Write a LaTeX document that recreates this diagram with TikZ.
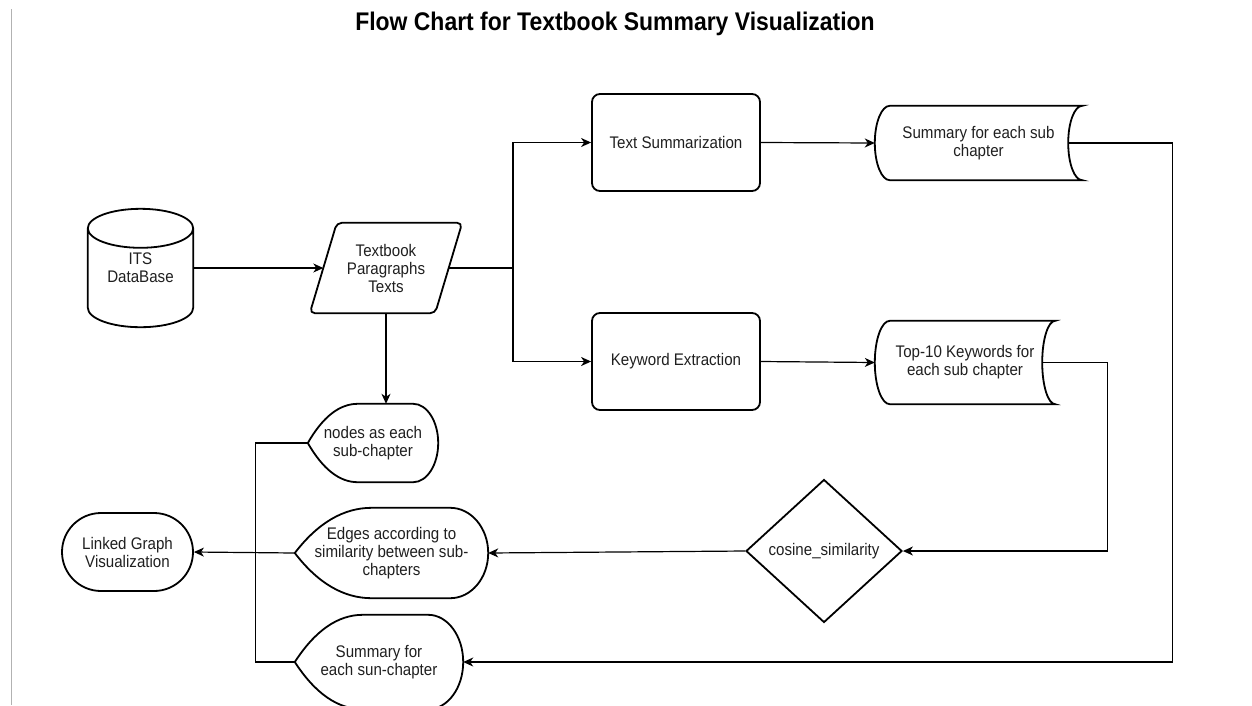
\documentclass[tikz,border=0pt]{standalone}
\usepackage{fontspec}
\setmainfont{Liberation Sans}[FakeStretch=0.9]
\usetikzlibrary{shapes.geometric,arrows.meta,calc}

\newcommand\displayoutline[3]{%
 \draw[shp] let \p1=(#1.south west),\p2=(#1.north east),\p3=(#1.west) in
 ({\x1},{\y3})
 .. controls ({\x1+0.3*#2pt},{\y3+0.667*(\y2-\y3)}) and ({\x1+0.633*#2pt},{\y2}) .. ({\x1+#2pt},{\y2})
 -- ({\x2-#3pt},{\y2})
 .. controls ({\x2-0.448*#3pt},{\y2}) and ({\x2},{\y3+0.552*(\y2-\y3)}) .. ({\x2},{\y3})
 .. controls ({\x2},{\y3-0.552*(\y2-\y3)}) and ({\x2-0.448*#3pt},{\y1}) .. ({\x2-#3pt},{\y1})
 -- ({\x1+#2pt},{\y1})
 .. controls ({\x1+0.633*#2pt},{\y1}) and ({\x1+0.3*#2pt},{\y3-0.667*(\y2-\y3)}) .. cycle;}

\newcommand\storedoutline[3]{%
 \draw[shp] let \p1=(#1.south west),\p2=(#1.north east),\p3=(#1.west) in
 ({\x1+#2pt},{\y2}) -- ({\x2},{\y2})
 .. controls ({\x2-0.552*#3pt},{\y2}) and ({\x2-#3pt},{\y3+0.552*(\y2-\y3)}) .. ({\x2-#3pt},{\y3})
 .. controls ({\x2-#3pt},{\y3-0.552*(\y2-\y3)}) and ({\x2-0.552*#3pt},{\y1}) .. ({\x2},{\y1})
 -- ({\x1+#2pt},{\y1})
 .. controls ({\x1+0.448*#2pt},{\y1}) and ({\x1},{\y3-0.552*(\y2-\y3)}) .. ({\x1},{\y3})
 .. controls ({\x1},{\y3+0.552*(\y2-\y3)}) and ({\x1+0.448*#2pt},{\y2}) .. cycle;}

\begin{document}
\begin{tikzpicture}[x=1pt,y=-1pt,
  shp/.style={draw=black, line width=1.8pt},
  txt/.style={font=\fontsize{16.8}{18}\selectfont, align=center, inner sep=0pt, text=black!88},
  con/.style={draw=black, line width=1.2pt},
  arr/.style={con, -{Stealth[length=10pt,width=9pt,inset=3pt]}},
]
\useasboundingbox (0,0) rectangle (1252,705);
\draw[gray!60, line width=1pt] (11,9) -- (11,705);

\node[font=\fontsize{25.5}{28}\selectfont\bfseries] (title) at (615,24) {Flow Chart for Textbook Summary Visualization};

% database cylinder
\node[txt, minimum width=105pt, minimum height=118pt] (db) at (140.5,268) {ITS\\DataBase};
\draw[shp] let \p1=(db.south west),\p2=(db.north east),\p3=(db.center) in
 ({\x1},{\y2-19.5pt}) -- ({\x1},{\y1+19.5pt})
 .. controls ({\x1},{\y1+8.7pt}) and ({\x3-0.552*(\x3-\x1)},{\y1}) .. ({\x3},{\y1})
 .. controls ({\x3+0.552*(\x3-\x1)},{\y1}) and ({\x2},{\y1+8.7pt}) .. ({\x2},{\y1+19.5pt})
 -- ({\x2},{\y2-19.5pt})
 ({\x3},{\y2-19.5pt}) ellipse [x radius={\x3-\x1}, y radius=19.5pt];

% parallelogram
\node[txt, minimum width=152pt, minimum height=90pt] (para) at (386,268) {Textbook\\Paragraphs\\Texts};
\draw[shp, rounded corners=5pt] let \p1=(para.south west),\p2=(para.north east) in
 ({\x1+13pt},{\y1}) -- ({\x1},{\y1}) -- ({\x1+27pt},{\y2}) -- ({\x2},{\y2}) -- ({\x2-27pt},{\y1}) -- ({\x1+13pt},{\y1});

% processes
\node[shp, txt, rounded corners=8pt, minimum width=168pt, minimum height=97pt] (ts) at (676,142.5) {Text Summarization};
\node[shp, txt, rounded corners=8pt, minimum width=168pt, minimum height=97pt] (ke) at (676,361.5) {Keyword Extraction};

% stored data
\node[txt, minimum width=207pt, minimum height=74pt] (sumsub) at (978.5,143) {Summary for each sub\\chapter};
\storedoutline{sumsub}{15}{14}
\node[txt, minimum width=180pt, minimum height=83pt] (top10) at (965,362.5) {Top-10 Keywords for\\each sub chapter};
\storedoutline{top10}{15}{13}

% decision
\node[shp, txt, diamond, minimum width=156pt, minimum height=143pt] (dia) at (824,551) {cosine\_similarity};

% displays
\node[txt, minimum width=130pt, minimum height=78pt] (nodes) at (373,443) {nodes as each\\sub-chapter};
\displayoutline{nodes}{50}{25}
\node[txt, minimum width=193pt, minimum height=90pt] (edges) at (391.5,553) {Edges according to\\similarity between sub-\\chapters};
\displayoutline{edges}{77}{38}
\node[txt, minimum width=168pt, minimum height=94pt] (sumsun) at (379,662) {Summary for\\each sun-chapter};
\displayoutline{sumsun}{68}{35}

% terminator
\node[shp, txt, rounded corners=39pt, minimum width=131pt, minimum height=78pt] (linked) at (127.5,552) {Linked Graph\\Visualization};

% connectors
\coordinate (sp) at (513,268);
\draw[arr] (db.east) -- ($(para.west)+(13.5,0)$);
\draw[con] ($(para.east)+(-13.5,0)$) -- (sp);
\draw[arr] (sp) |- (ts.west);
\draw[arr] (sp) |- (ke.west);
\draw[arr] (para.south) -- (para.south |- nodes.north);
\draw[arr] (ts.east) -- (sumsub.west);
\draw[arr] ($(sumsub.east)+(-14,0)$) -- ++(104,0) |- (sumsun.east);
\draw[arr] (ke.east) -- (top10.west);
\draw[arr] ($(top10.east)+(-13,0)$) -- ++(65,0) |- (dia.east);
\draw[arr] (dia.west) -- (edges.east);
\draw[arr] (edges.west) -- (linked.east);
\draw[con] (nodes.west) -- ++(-52,0) |- (sumsun.west);
\end{tikzpicture}
\end{document}
